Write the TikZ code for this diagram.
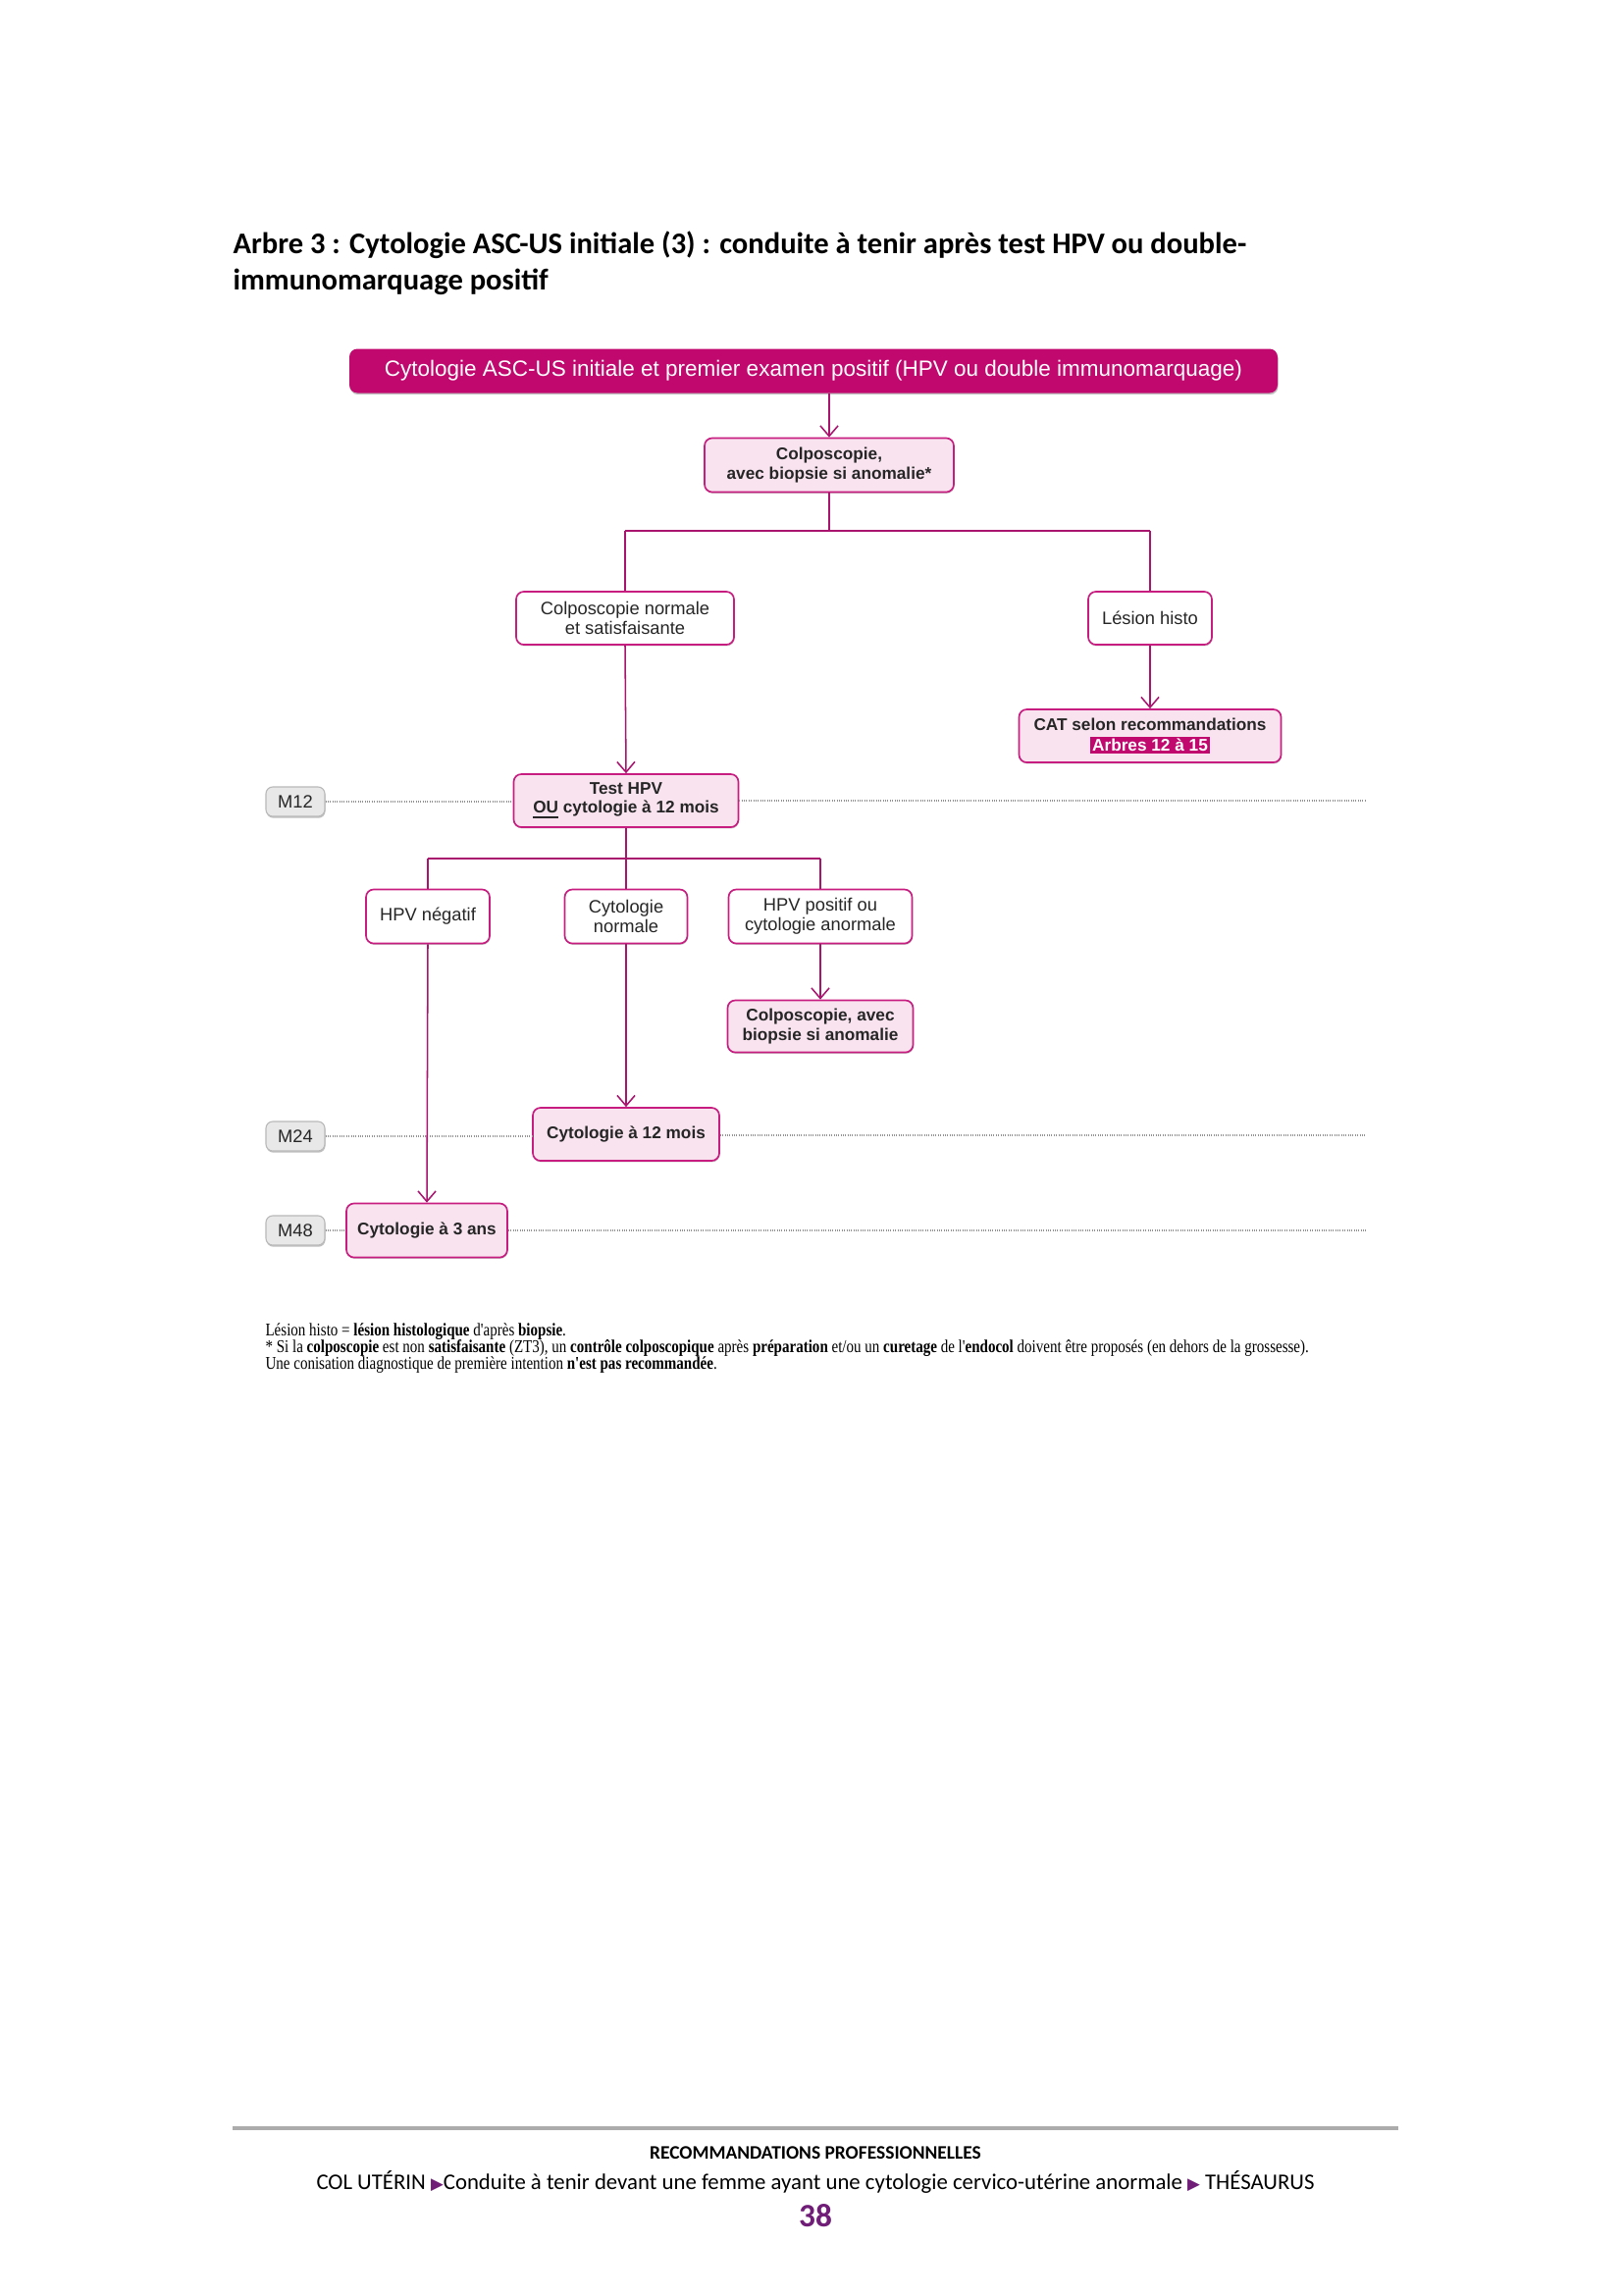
\documentclass[tikz,border=0pt]{standalone}
\usepackage{fontspec}
\setmainfont{Carlito}
\newfontfamily\diag{Liberation Sans}
\newfontfamily\notefont{Liberation Serif}[FakeStretch=0.82]
\newfontfamily\symfont{DejaVu Sans}
\usetikzlibrary{arrows.meta,shadows}
\definecolor{mag}{HTML}{C0086F}
\definecolor{magline}{HTML}{A8146E}
\definecolor{pinkfill}{HTML}{F8E3EF}
\definecolor{boxborder}{HTML}{C81D80}
\definecolor{txt}{HTML}{262626}
\definecolor{purp}{HTML}{6F1D77}
\begin{document}
\begin{tikzpicture}[x=0.36pt,y=-0.36pt,
  sz/.style 2 args={minimum width=#1*0.36pt, minimum height=#2*0.36pt},
  box/.style={draw=boxborder, line width=0.6pt, rounded corners=2.8pt, align=center, inner sep=0pt,
    text=txt, drop shadow={shadow xshift=0.2pt, shadow yshift=-0.5pt, opacity=0.22, fill=black}},
  wbox/.style={box, fill=white, font=\diag\fontsize{6.6}{7.1}\selectfont},
  pbox/.style={box, fill=pinkfill, font=\diag\bfseries\fontsize{6.2}{7.1}\selectfont},
  mlabel/.style={draw=gray!55, fill=gray!18, rounded corners=2.5pt, inner sep=0pt, text=txt,
    font=\diag\fontsize{6.6}{7.1}\selectfont, sz={60}{30},
    drop shadow={shadow xshift=0.2pt, shadow yshift=-0.6pt, opacity=0.25, fill=black}},
  conn/.style={draw=magline, line width=0.55pt},
  arr/.style={conn, -{Straight Barb[length=3.8pt,width=6.5pt]}},
  bar/.style={draw=magline, line width=0.95pt},
  dots/.style={draw=gray!85, line width=0.5pt, dash pattern=on 0.35pt off 0.5pt},
  note/.style={anchor=base west, inner sep=0pt, font=\notefont\fontsize{6.6}{7}\selectfont},
  tri/.style={}
]
\useasboundingbox (0,0) rectangle (1654,2339);

% title
\node[anchor=base west, inner sep=0pt, font=\bfseries\fontsize{11}{13}\selectfont] (t1) at (237,258)
  {Arbre 3 : Cytologie ASC-US initiale (3) : conduite à tenir après test HPV ou double-};
\node[anchor=base west, inner sep=0pt, font=\bfseries\fontsize{11}{13}\selectfont] (t2) at (237,295)
  {immunomarquage positif};

% banner
\node[fill=mag, rounded corners=3pt, text=white, inner sep=0pt, sz={946}{45},
  font=\diag\fontsize{8.1}{9}\selectfont,
  drop shadow={shadow xshift=0.2pt, shadow yshift=-0.6pt, opacity=0.25, fill=black}] (banner) at (829,378)
  {Cytologie ASC-US initiale et premier examen positif (HPV ou double immunomarquage)};

% boxes
\node[pbox, sz={254}{55}] (colpo) at (845,474) {Colposcopie,\\avec biopsie si anomalie*};
\node[wbox, sz={222}{54}] (normale) at (637,630) {Colposcopie normale\\et satisfaisante};
\node[wbox, sz={126}{54}] (lesion) at (1172,630) {Lésion histo};
\node[pbox, sz={267}{54}] (cat) at (1172,750)
  {CAT selon recommandations\\[0.6pt]{\setlength\fboxsep{0.7pt}\colorbox{mag}{\textcolor{white}{Arbres 12 à 15}}}};
\node[pbox, sz={229}{54}] (test) at (638,816) {Test HPV\\\underline{OU} cytologie à 12 mois};
\node[wbox, sz={126}{55}] (neg) at (436,934) {HPV négatif};
\node[wbox, sz={125}{55}] (cytnorm) at (638,934) {Cytologie\\normale};
\node[wbox, sz={187}{55}] (hpvpos) at (836,934) {HPV positif ou\\cytologie anormale};
\node[pbox, sz={189}{53}] (colpo2) at (836,1046) {Colposcopie, avec\\biopsie si anomalie};
\node[pbox, sz={190}{54}] (cyt12) at (638,1156) {Cytologie à 12 mois};
\node[pbox, sz={164}{55}] (cyt3) at (435,1254) {Cytologie à 3 ans};

% time labels
\node[mlabel] (m12) at (301,817) {M12};
\node[mlabel] (m24) at (301,1158) {M24};
\node[mlabel] (m48) at (301,1254) {M48};

\coordinate (e12) at (1392,816);
\coordinate (e24) at (1392,1157);
\coordinate (e48) at (1392,1254);
\draw[dots] (m12.east) -- (m12.east -| test.west);
\draw[dots] (test.east |- e12) -- (e12);
\draw[dots] (m24.east) -- (m24.east -| cyt12.west);
\draw[dots] (cyt12.east |- e24) -- (e24);
\draw[dots] (m48.east) -- (m48.east -| cyt3.west);
\draw[dots] (cyt3.east |- e48) -- (e48);

% connectors
\coordinate (b1) at (845,541);
\coordinate (b1l) at (637,541);
\coordinate (b1r) at (1172,541);
\coordinate (b2) at (638,875);
\coordinate (b2l) at (436,875);
\coordinate (b2r) at (836,875);

\draw[arr] (banner.south -| colpo.north) -- (colpo.north);
\draw[conn] (colpo.south) -- (b1);
\draw[bar] (b1l) -- (b1r);
\draw[conn] (b1l) -- (normale.north);
\draw[conn] (b1r) -- (lesion.north);
\draw[arr] (normale.south) -- (test.north);
\draw[arr] (lesion.south) -- (cat.north);
\draw[conn] (test.south) -- (b2);
\draw[bar] (b2l) -- (b2r);
\draw[conn] (b2l) -- (neg.north);
\draw[conn] (b2) -- (cytnorm.north);
\draw[conn] (b2r) -- (hpvpos.north);
\draw[arr] (hpvpos.south) -- (colpo2.north);
\draw[arr] (cytnorm.south) -- (cyt12.north);
\draw[arr] (neg.south) -- (cyt3.north);

% footnotes
\node[note] (n1) at (270,1361) {Lésion histo = \textbf{lésion histologique} d'après \textbf{biopsie}.};
\node[note] (n2) at (270,1378) {* Si la \textbf{colposcopie} est non \textbf{satisfaisante} (ZT3), un \textbf{contrôle colposcopique} après \textbf{préparation} et/ou un \textbf{curetage} de l'\textbf{endocol} doivent être proposés (en dehors de la grossesse).};
\node[note] (n3) at (270,1395) {Une conisation diagnostique de première intention \textbf{n'est pas recommandée}.};

% footer
\coordinate (r1) at (237,2169);
\coordinate (r2) at (1425,2169);
\draw[gray!65, line width=1.1pt] (r1) -- (r2);
\node[anchor=base, inner sep=0pt, font=\bfseries\fontsize{7}{8}\selectfont] (f1) at (831,2200) {RECOMMANDATIONS PROFESSIONNELLES};
\node[anchor=base, inner sep=0pt, font=\fontsize{8.2}{10}\selectfont] (f2) at (831,2231)
  {COL UTÉRIN {\symfont\fontsize{6}{8}\selectfont\textcolor{purp}{▶}}Conduite à tenir devant une femme ayant une cytologie cervico-utérine anormale {\symfont\fontsize{6}{8}\selectfont\textcolor{purp}{▶}} THÉSAURUS};
\node[anchor=base, inner sep=0pt, font=\bfseries\fontsize{12}{14}\selectfont, text=purp] (f3) at (831,2269) {38};
\end{tikzpicture}
\end{document}
